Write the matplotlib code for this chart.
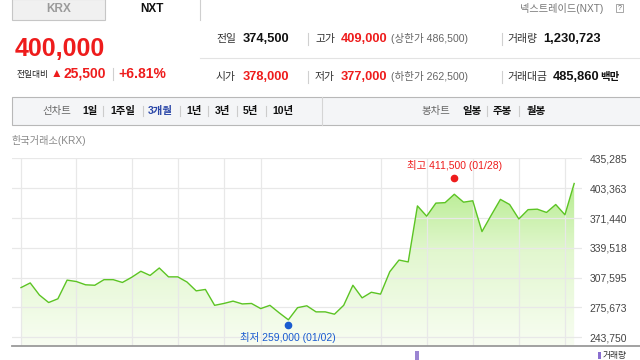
import numpy as np
import matplotlib
matplotlib.use("Agg")
import matplotlib.pyplot as plt
from matplotlib.patches import Rectangle
from matplotlib.colors import LinearSegmentedColormap
from matplotlib.ticker import FuncFormatter
from matplotlib.transforms import ScaledTranslation

plt.rcParams["font.family"] = ["Liberation Sans", "Noto Sans CJK KR", "DejaVu Sans"]

# 3-month daily closes (KRX)
prices = [
    297000, 302000, 289000, 281000, 285000, 305000, 303500, 300000, 299500, 305500,
    305500, 302500, 308000, 314500, 310000, 318000, 308500, 308500, 303000, 293500,
    295000, 278000, 280000, 282500, 279500, 280000, 274500, 278000, 270000, 262500,
    275500, 277500, 271000, 271000, 268500, 278000, 299500, 286000, 292000, 290000,
    314000, 326500, 324500, 384500, 373500, 387500, 388000, 397000, 388500, 390000,
    357000, 374500, 391500, 386000, 370500, 380500, 381000, 377500, 386000, 375000,
    408500,
]
y_ticks = [243750, 275673, 307595, 339518, 371440, 403363, 435285]
grid_days = [0, 6, 12, 17, 22, 26, 39, 44, 49, 54, 59]
high_day, high_value, high_label = 47, 411500, "최고 411,500 (01/28)"
low_day, low_value, low_label = 29, 259000, "최저 259,000 (01/02)"

RED = "#ee1c1c"
BLUE = "#1a5bd0"
W, H = 640, 360

fig = plt.figure(figsize=(W / 100, H / 100), dpi=100)

# ---- chart -----------------------------------------------------------
left_px, right_px, top_px, bottom_px = 12, 582, 158.3, 346
ax = fig.add_axes([left_px / W, 1 - bottom_px / H,
                   (right_px - left_px) / W, (bottom_px - top_px) / H])
ax.set_facecolor("none")
ax.set_xlim(-0.976, 60.85)
ax.set_ylim(234430, 435495)

x = np.arange(len(prices))
poly = ax.fill_between(x, prices, 234430, facecolor="none", edgecolor="none")
grad = np.linspace(1, 0, 256).reshape(-1, 1)
cmap = LinearSegmentedColormap.from_list("g", ["#f8fdf2", "#e2f7cf", "#a6e878"])
img = ax.imshow(grad, cmap=cmap, aspect="auto", origin="upper",
                extent=[-0.976, 60.85, 234430, 435495], zorder=1)
img.set_clip_path(poly.get_paths()[0], transform=ax.transData)
ax.plot(x, prices, color="#5cc424", lw=1.0, zorder=3)

ax.set_yticks(y_ticks)
ax.yaxis.tick_right()
ax.yaxis.set_major_formatter(FuncFormatter(lambda v, p: f"{int(round(v)):,}"))
ax.tick_params(axis="y", length=0, pad=5.5, labelsize=7.5, labelcolor="#444444")
ax.set_xticks(grid_days)
ax.tick_params(axis="x", length=0, labelbottom=False)
ax.grid(True, color="#e8e8e8", lw=0.9, zorder=0)
for s in ax.spines.values():
    s.set_visible(False)

ax.plot([high_day], [high_value], "o", color=RED, ms=4.5, zorder=4,
        transform=ax.transData + ScaledTranslation(0, 2.7 / 100, fig.dpi_scale_trans))
ax.annotate(high_label, (high_day, high_value), xytext=(0, 7), textcoords="offset points",
            ha="center", va="bottom", color=RED, fontsize=7.5)
ax.plot([low_day], [low_value], "o", color=BLUE, ms=4.5, zorder=4,
        transform=ax.transData + ScaledTranslation(0, -2.2 / 100, fig.dpi_scale_trans))
ax.annotate(low_label, (low_day, low_value), xytext=(0, -6.5), textcoords="offset points",
            ha="center", va="top", color=BLUE, fontsize=7.5)

# ---- page furniture in pixel coordinates -----------------------------
bg = fig.add_axes([0, 0, 1, 1])
bg.set_xlim(0, W)
bg.set_ylim(H, 0)
bg.axis("off")
bg.patch.set_alpha(0)
bg.set_zorder(2)


def txt(x0, y0, s, size=7.5, color="#333333", weight="normal", ha="left"):
    bg.text(x0, y0, s, fontsize=size, color=color, fontweight=weight, ha=ha, va="center")


def vline(x0, y0, y1, color="#d0d0d0", lw=0.8):
    bg.plot([x0, x0], [y0, y1], color=color, lw=lw)


# tabs
bg.add_patch(Rectangle((12, -1), 93, 20.5, facecolor="#f0f0f0", edgecolor="#c6c6c6", lw=0.8))
txt(58.5, 9.5, "KRX", 8.5, "#9a9a9a", "bold", "center")
txt(152, 9.5, "NXT", 8.5, "#111111", "bold", "center")
vline(199.5, 0, 20, "#cfcfcf")
txt(520, 8, "넥스트레이드(NXT)", 7.3, "#777777")
bg.add_patch(Rectangle((616, 4), 7, 8, facecolor="white", edgecolor="#999999", lw=0.6))
txt(619.5, 8, "?", 5, "#666666", ha="center")

# current price block
txt(15, 49, "400,000", 18, RED, "bold")
txt(17, 74, "전일대비", 6.3, "#222222")
txt(51, 74, "▲", 8.5, RED)
txt(64, 74, "25,500", 10, RED, "bold")
vline(113, 68, 80)
txt(118, 74, "+6.81%", 10, RED, "bold")

# quote table
bg.plot([200, 640], [58, 58], color="#e3e3e3", lw=0.8)
rows = [
    (39, "전일", "374,500", "#111111", "고가", "409,000", "(상한가 486,500)", "거래량", "1,230,723", ""),
    (77, "시가", "378,000", RED, "저가", "377,000", "(하한가 262,500)", "거래대금", "485,860", "백만"),
]
for yy, lab1, v1, c1, lab2, v2, lim, lab3, v3, unit in rows:
    txt(216, yy, lab1, 7.8)
    txt(243, yy, v1, 9.3, c1, "bold")
    vline(308, yy - 6, yy + 6)
    txt(315, yy, lab2, 7.8)
    txt(341, yy, v2, 9.3, RED, "bold")
    txt(391, yy, lim, 7.6, "#666666")
    vline(502, yy - 6, yy + 6)
    txt(507, yy, lab3, 7.8)
    txt(543 if not unit else 553, yy, v3, 9.3, "#111111", "bold")
    if unit:
        txt(600, yy, unit, 7.5, "#111111", "bold")

# period selector bar
bg.add_patch(Rectangle((12, 97), 640, 28, facecolor="#f4f5f7", edgecolor="#b8b8b8", lw=0.8))
vline(321.5, 97, 125, "#d5d5d5")
txt(42, 111, "선차트", 7.5, "#666666")
for xx, s in [(82, "1일"), (110, "1주일"), (148, "3개월"), (186, "1년"),
              (215, "3년"), (243, "5년"), (272, "10년")]:
    txt(xx, 111, s, 7.5, "#2b47a8" if s == "3개월" else "#111111", "bold")
txt(421, 111, "봉차트", 7.5, "#666666")
for xx, s in [(462, "일봉"), (493, "주봉"), (527, "월봉")]:
    txt(xx, 111, s, 7.5, "#111111", "bold")
for xx in [103, 143, 180, 208, 237, 266, 487, 519]:
    vline(xx, 106, 116, "#cccccc")

txt(12, 141, "한국거래소(KRX)", 7.3, "#888888")

# bottom axis line and volume stub
bg.plot([12, 640], [346, 346], color="#9a9a9a", lw=1.3)
bg.add_patch(Rectangle((415, 351), 4, 10, facecolor="#9b85d2", edgecolor="none"))
bg.add_patch(Rectangle((598, 352), 2.5, 7, facecolor="#8a6fd0", edgecolor="none"))
txt(603, 355.3, "거래량", 6.3, "#333333")

fig.savefig("out.png", dpi=100)
